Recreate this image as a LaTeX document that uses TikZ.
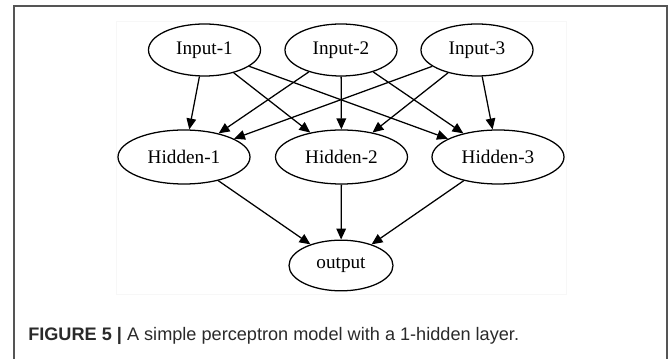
\documentclass[tikz,border=0pt]{standalone}
\usepackage{fontspec}
\setmainfont{Liberation Serif}
\newfontfamily\capfont{Liberation Sans}
\usetikzlibrary{shapes.geometric,arrows.meta}
\definecolor{framegray}{HTML}{555555}
\definecolor{captext}{HTML}{2A2A2A}
\tikzset{
  nn/.style={draw=black, ellipse, line width=0.95pt, inner sep=0pt, fill=white,
    font=\fontsize{14.4pt}{16pt}\selectfont},
  inp/.style={nn, minimum width=84pt, minimum height=39pt},
  hid/.style={nn, minimum width=99pt, minimum height=40.5pt},
  outn/.style={nn, minimum width=78pt, minimum height=38pt},
  edge/.style={draw=black, line width=0.95pt, -{Triangle[length=8.2pt,width=7.2pt]}},
}
\begin{document}
\begin{tikzpicture}[x=0.75pt,y=-0.75pt]
\useasboundingbox (0,0) rectangle (669,359);
% outer frame (open at bottom)
\draw[framegray, line width=1.5pt] (14,359) -- (14,6) -- (667,6) -- (667,359);
% faint graph background
\draw[black!3, line width=0.6pt] (116,21) rectangle (566,294);
% nodes
\node[inp] (i1) at (204.5,50) {Input-1};
\node[inp] (i2) at (341,50) {Input-2};
\node[inp] (i3) at (477,50) {Input-3};
\node[hid] (h1) at (184,157) {Hidden-1};
\node[hid] (h2) at (341.5,157) {Hidden-2};
\node[hid] (h3) at (498,157) {Hidden-3};
\node[outn] (o) at (341,265.5) {output};
% edges
\foreach \a in {i1,i2,i3}{
  \foreach \b in {h1,h2,h3}{
    \path[edge] (\a) -- (\b);
  }
}
\foreach \b in {h1,h2,h3}{
  \path[edge] (\b) -- (o);
}
% caption
\node[anchor=base west, inner sep=0pt, text=captext,
  font=\capfont\fontsize{13.6pt}{15pt}\selectfont] (cap) at (28,341)
  {\textbf{FIGURE 5 |} A simple perceptron model with a 1-hidden layer.};
\end{tikzpicture}
\end{document}
